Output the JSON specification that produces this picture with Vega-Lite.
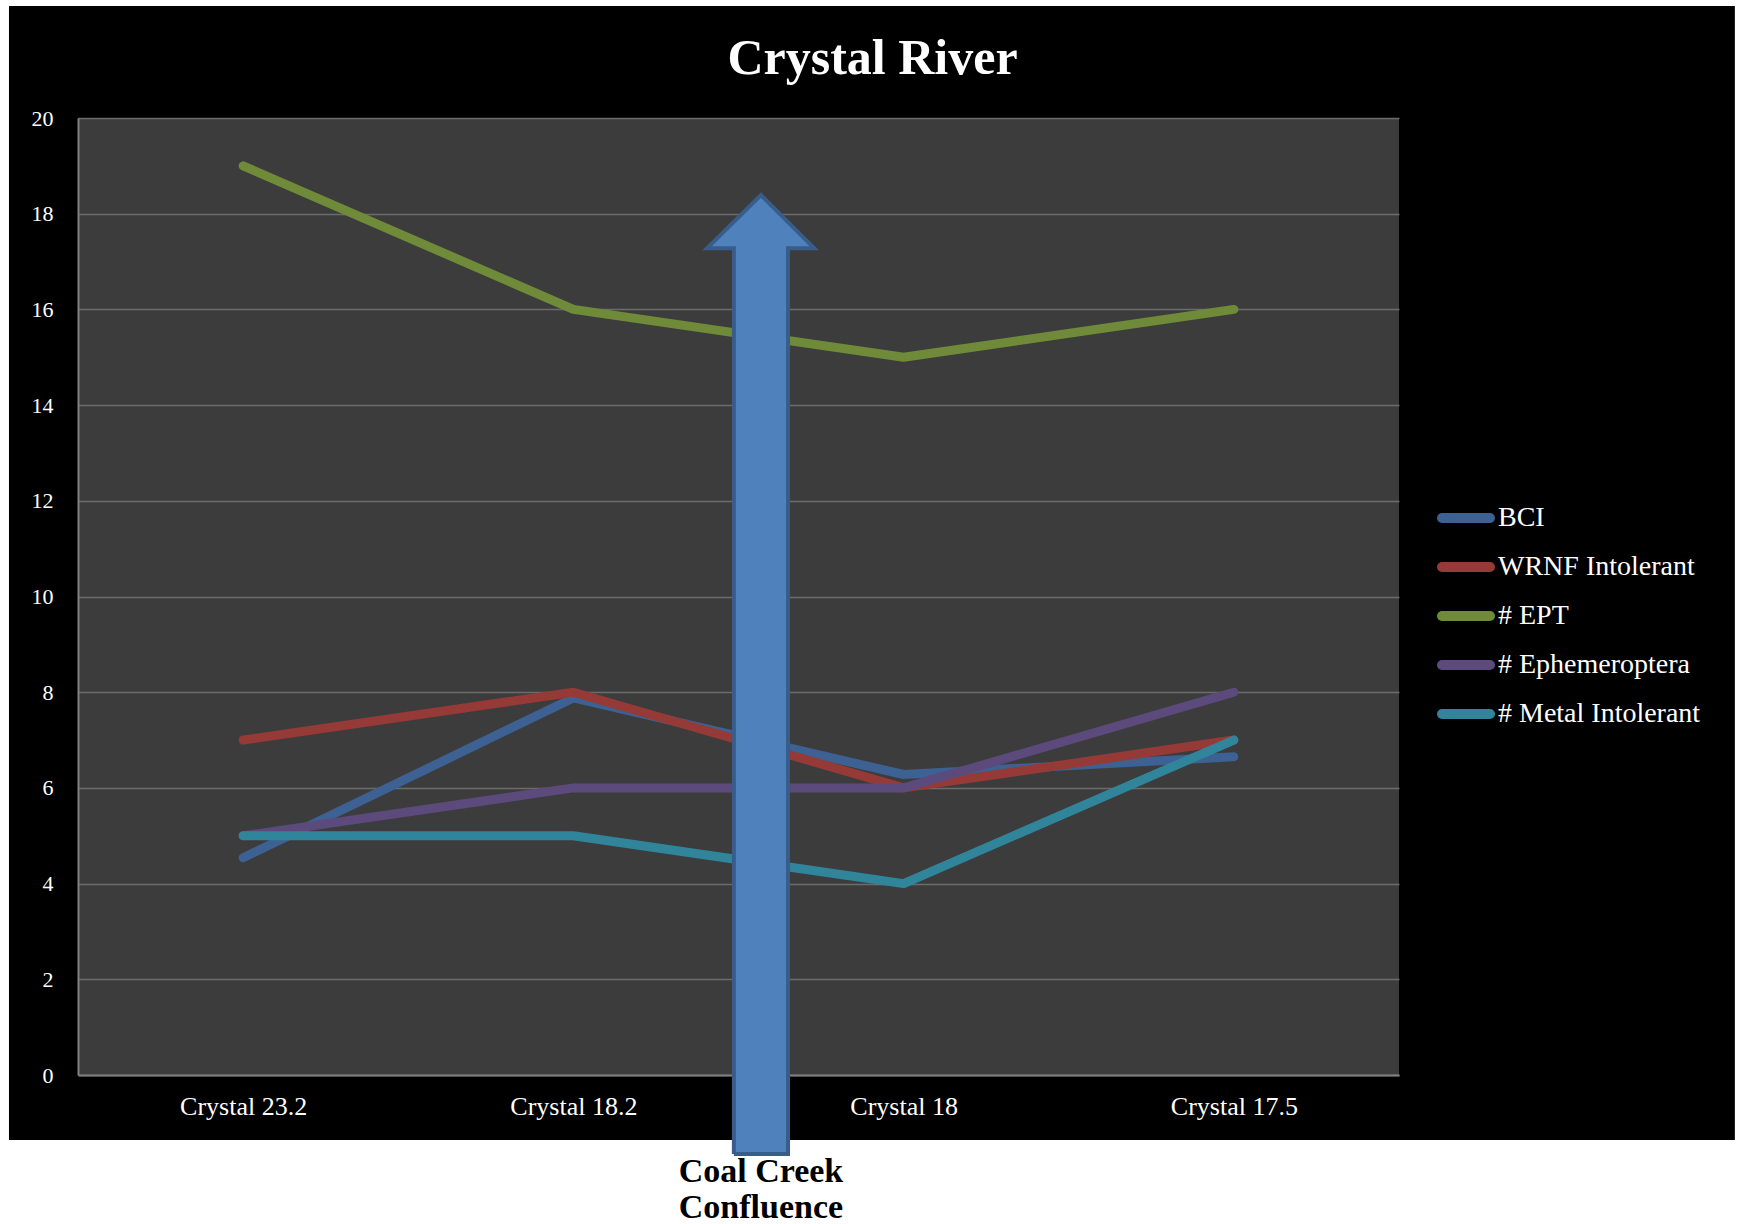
{
  "$schema": "https://vega.github.io/schema/vega-lite/v6.json",
  "width": 1321,
  "height": 957,
  "autosize": {"type": "none"},
  "padding": {"left": 78, "top": 118, "right": 342, "bottom": 149},
  "background": "#000000",
  "config": {
    "view": {"fill": "#3c3c3c", "stroke": null},
    "font": "Liberation Serif"
  },
  "title": {
    "text": "Crystal River",
    "color": "#ffffff",
    "font": "Liberation Serif",
    "fontSize": 50,
    "fontWeight": "bold",
    "anchor": "middle",
    "dx": 134,
    "offset": -124,
    "baseline": "alphabetic"
  },
  "datasets": {
    "series": [
      {"site": "Crystal 23.2", "series": "BCI", "value": 4.54},
      {"site": "Crystal 18.2", "series": "BCI", "value": 7.88},
      {"site": "Crystal 18", "series": "BCI", "value": 6.28},
      {"site": "Crystal 17.5", "series": "BCI", "value": 6.65},
      {"site": "Crystal 23.2", "series": "WRNF Intolerant", "value": 7},
      {"site": "Crystal 18.2", "series": "WRNF Intolerant", "value": 8},
      {"site": "Crystal 18", "series": "WRNF Intolerant", "value": 6},
      {"site": "Crystal 17.5", "series": "WRNF Intolerant", "value": 7},
      {"site": "Crystal 23.2", "series": "# EPT", "value": 19},
      {"site": "Crystal 18.2", "series": "# EPT", "value": 16},
      {"site": "Crystal 18", "series": "# EPT", "value": 15},
      {"site": "Crystal 17.5", "series": "# EPT", "value": 16},
      {"site": "Crystal 23.2", "series": "# Ephemeroptera", "value": 5},
      {"site": "Crystal 18.2", "series": "# Ephemeroptera", "value": 6},
      {"site": "Crystal 18", "series": "# Ephemeroptera", "value": 6},
      {"site": "Crystal 17.5", "series": "# Ephemeroptera", "value": 8},
      {"site": "Crystal 23.2", "series": "# Metal Intolerant", "value": 5},
      {"site": "Crystal 18.2", "series": "# Metal Intolerant", "value": 5},
      {"site": "Crystal 18", "series": "# Metal Intolerant", "value": 4},
      {"site": "Crystal 17.5", "series": "# Metal Intolerant", "value": 7}
    ],
    "arrow": [
      {"i": 0, "ax": 1.986, "ay": -1.65},
      {"i": 1, "ax": 1.986, "ay": 17.28},
      {"i": 2, "ax": 1.905, "ay": 17.28},
      {"i": 3, "ax": 2.068, "ay": 18.39},
      {"i": 4, "ax": 2.229, "ay": 17.28},
      {"i": 5, "ax": 2.150, "ay": 17.28},
      {"i": 6, "ax": 2.150, "ay": -1.65},
      {"i": 7, "ax": 1.986, "ay": -1.65}
    ],
    "one": [{}]
  },
  "layer": [
    {
      "data": {"name": "series"},
      "mark": {"type": "line", "strokeWidth": 9, "strokeCap": "round", "strokeJoin": "round"},
      "encoding": {
        "x": {
          "field": "site",
          "type": "ordinal",
          "sort": ["Crystal 23.2", "Crystal 18.2", "Crystal 18", "Crystal 17.5"],
          "scale": {"type": "point", "padding": 0.5},
          "title": null,
          "axis": {
            "labelColor": "#ffffff",
            "labelFont": "Liberation Serif",
            "labelFontSize": 26,
            "labelAngle": 0,
            "ticks": false,
            "grid": false,
            "domainColor": "#808080",
            "domainWidth": 2,
            "labelPadding": 18
          }
        },
        "y": {
          "field": "value",
          "type": "quantitative",
          "scale": {"domain": [0, 20], "nice": false},
          "title": null,
          "axis": {
            "values": [0, 2, 4, 6, 8, 10, 12, 14, 16, 18, 20],
            "labelColor": "#ffffff",
            "labelFont": "Liberation Serif",
            "labelFontSize": 22,
            "ticks": false,
            "domainColor": "#808080",
            "domainWidth": 2,
            "gridColor": "#6b6b6b",
            "gridWidth": 1.5,
            "labelPadding": 25
          }
        },
        "color": {
          "field": "series",
          "type": "nominal",
          "scale": {
            "domain": ["BCI", "WRNF Intolerant", "# EPT", "# Ephemeroptera", "# Metal Intolerant"],
            "range": ["#3c6192", "#953a37", "#6f8a38", "#5c4a7c", "#31859b"]
          },
          "legend": {
            "title": null,
            "orient": "none",
            "legendX": 1359,
            "legendY": 371,
            "padding": 0,
            "symbolType": "stroke",
            "symbolSize": 2304,
            "symbolStrokeWidth": 10,
            "labelColor": "#ffffff",
            "labelFont": "Liberation Serif",
            "labelFontSize": 28,
            "labelOffset": 3,
            "labelLimit": 0,
            "rowPadding": -1,
            "encode": {"symbols": {"update": {"strokeCap": {"value": "round"}}}}
          }
        }
      }
    },
    {
      "data": {"name": "one"},
      "mark": {"type": "rect", "color": "#ffffff", "clip": false},
      "encoding": {
        "x": {"datum": -0.5, "type": "quantitative", "scale": {"domain": [0, 4], "nice": false, "zero": false}, "axis": null},
        "x2": {"datum": 5.5},
        "y": {"datum": -1.36, "type": "quantitative", "scale": {"domain": [0, 20], "nice": false}, "title": null},
        "y2": {"datum": -4}
      }
    },
    {
      "data": {"name": "one"},
      "mark": {"type": "rect", "color": "#ffffff", "clip": false},
      "encoding": {
        "x": {"datum": -0.5, "type": "quantitative", "scale": {"domain": [0, 4], "nice": false, "zero": false}, "axis": null},
        "x2": {"datum": 5.5},
        "y": {"datum": 22.34, "type": "quantitative", "scale": {"domain": [0, 20], "nice": false}, "title": null},
        "y2": {"datum": 22.466}
      }
    },
    {
      "data": {"name": "one"},
      "mark": {"type": "rect", "color": "#ffffff", "clip": false},
      "encoding": {
        "x": {"datum": -0.5, "type": "quantitative", "scale": {"domain": [0, 4], "nice": false, "zero": false}, "axis": null},
        "x2": {"datum": -0.209},
        "y": {"datum": -4, "type": "quantitative", "scale": {"domain": [0, 20], "nice": false}, "title": null},
        "y2": {"datum": 22.466}
      }
    },
    {
      "data": {"name": "one"},
      "mark": {"type": "rect", "color": "#ffffff", "clip": false},
      "encoding": {
        "x": {"datum": 5.017, "type": "quantitative", "scale": {"domain": [0, 4], "nice": false, "zero": false}, "axis": null},
        "x2": {"datum": 5.5},
        "y": {"datum": -4, "type": "quantitative", "scale": {"domain": [0, 20], "nice": false}, "title": null},
        "y2": {"datum": 22.466}
      }
    },
    {
      "data": {"name": "arrow"},
      "mark": {"type": "line", "fill": "#4f81bd", "stroke": "#385d8a", "strokeWidth": 4, "strokeJoin": "miter", "clip": false},
      "encoding": {
        "x": {"field": "ax", "type": "quantitative", "scale": {"domain": [0, 4], "nice": false, "zero": false}, "axis": null},
        "y": {"field": "ay", "type": "quantitative", "scale": {"domain": [0, 20], "nice": false}, "title": null},
        "order": {"field": "i"}
      }
    },
    {
      "data": {"name": "one"},
      "mark": {
        "type": "text",
        "text": ["Coal Creek", "Confluence"],
        "font": "Liberation Serif",
        "fontWeight": "bold",
        "fontSize": 34,
        "lineHeight": 36,
        "align": "center",
        "baseline": "alphabetic",
        "color": "#000000",
        "clip": false
      },
      "encoding": {
        "x": {"datum": 2.068, "type": "quantitative", "scale": {"domain": [0, 4], "nice": false, "zero": false}, "axis": null},
        "y": {"datum": -2.236, "type": "quantitative", "scale": {"domain": [0, 20], "nice": false}, "title": null}
      }
    }
  ],
  "resolve": {"scale": {"x": "independent"}}
}
